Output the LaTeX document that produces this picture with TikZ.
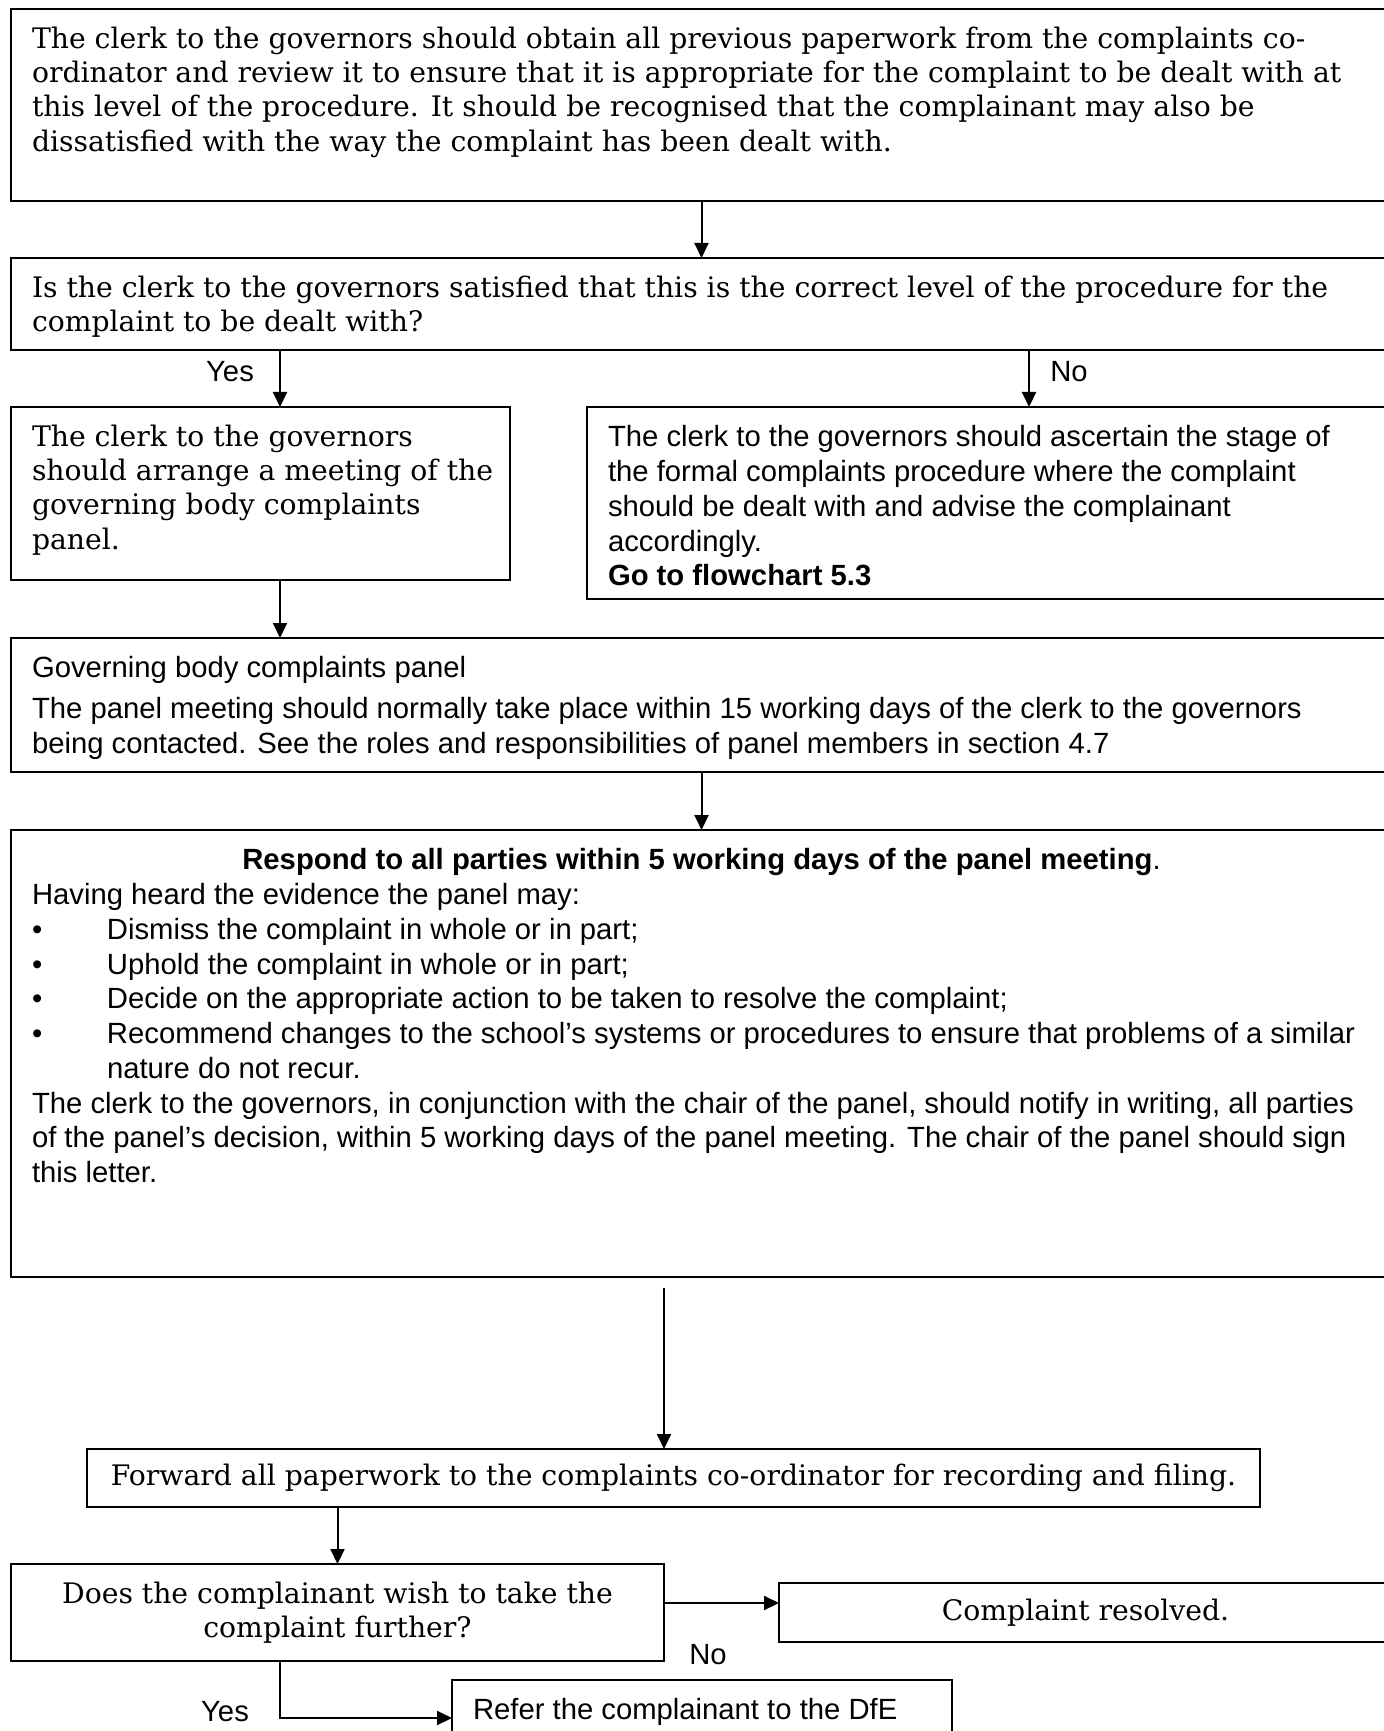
\documentclass[tikz,border=0pt]{standalone}
\usepackage{fontspec}
\setmainfont{Liberation Sans}
\newfontfamily\bookfont{DejaVu Serif}
\usetikzlibrary{arrows.meta}

\newdimen\pxu \pxu=0.4pt
% box text: width and height in px, lines set with \\
\newcommand{\boxbody}[3]{\parbox[t][\dimexpr#2\pxu-12.4pt\relax][t]{\dimexpr#1\pxu-16.8pt\relax}{\begin{tabular}[t]{@{}l@{}}#3\end{tabular}}}
\newcommand{\bul}{\makebox[30pt][l]{\textbullet}}

\begin{document}
\begin{tikzpicture}[x=0.4pt,y=-0.4pt,line width=0.8pt,
  box/.style={draw,anchor=north west,inner xsep=8.4pt,inner ysep=6.2pt,outer sep=0pt},
  mid/.style={draw,anchor=north west,inner sep=0pt,outer sep=0pt,align=center},
  serif/.style={font=\bookfont\fontsize{11.3}{13.7}\selectfont},
  sans/.style={font=\fontsize{11.7}{13.9}\selectfont},
  arr/.style={-{Triangle[length=6pt,width=5.6pt]}}]
\useasboundingbox (0,0) rectangle (1384,1731);
\clip (0,0) rectangle (1384,1731);

\coordinate (yescol) at (280,0);
\coordinate (nocol)  at (1029,0);
\coordinate (fwdcol) at (664,0);

\node[box,serif] (check) at (11,9) {\boxbody{1381}{192}{%
The clerk to the governors should obtain all previous paperwork from the complaints co-\\
ordinator and review it to ensure that it is appropriate for the complaint to be dealt with at\\
this level of the procedure. It should be recognised that the complainant may also be\\
dissatisfied with the way the complaint has been dealt with.}};
\node[box,serif] (level) at (11,258) {\boxbody{1381}{92}{%
Is the clerk to the governors satisfied that this is the correct level of the procedure for the\\
complaint to be dealt with?}};
\node[box,serif] (arrange) at (11,407) {\boxbody{499}{173}{%
The clerk to the governors\\
should arrange a meeting of the\\
governing body complaints\\
panel.}};
\node[box,sans] (ascertain) at (587,407) {\boxbody{805}{192}{%
The clerk to the governors should ascertain the stage of\\
the formal complaints procedure where the complaint\\
should be dealt with and advise the complainant\\
accordingly.\\
\textbf{Go to flowchart 5.3}}};
\node[box,sans] (panel) at (11,638) {\boxbody{1381}{134}{%
Governing body complaints panel\\[2.4pt]
The panel meeting should normally take place within 15 working days of the clerk to the governors\\
being contacted. See the roles and responsibilities of panel members in section 4.7}};
\node[box,sans] (respond) at (11,830) {\boxbody{1381}{447}{%
\makebox[\linewidth][c]{\textbf{Respond to all parties within 5 working days of the panel meeting}.}\\
Having heard the evidence the panel may:\\
\bul Dismiss the complaint in whole or in part;\\
\bul Uphold the complaint in whole or in part;\\
\bul Decide on the appropriate action to be taken to resolve the complaint;\\
\bul Recommend changes to the school’s systems or procedures to ensure that problems of a similar\\
\hspace*{30pt}nature do not recur.\\
The clerk to the governors, in conjunction with the chair of the panel, should notify in writing, all parties\\
of the panel’s decision, within 5 working days of the panel meeting. The chair of the panel should sign\\
this letter.}};
\node[mid,serif,minimum width=469.2pt,minimum height=23.2pt] (forward) at (87,1449)
  {Forward all paperwork to the complaints co-ordinator for recording and filing.};
\node[mid,serif,minimum width=261.2pt,minimum height=38.8pt] (decide) at (11,1564)
  {Does the complainant wish to take the\\complaint further?};
\node[mid,serif,minimum width=245.2pt,minimum height=23.6pt] (resolved) at (779,1583)
  {Complaint resolved.};
\node[box,sans] (refer) at (452,1680) {\boxbody{500}{76}{Refer the complainant to the DfE}};

\node[sans] (yes1) at (230,372) {Yes};
\node[sans] (no1) at (1069,372) {No};
\node[sans] (no2) at (708,1655) {No};
\node[sans,anchor=base] (yes2) at (225,1721) {Yes};

\draw[arr] (check) -- (level);
\draw[arr] (level.south -| yescol) -- (arrange.north -| yescol);
\draw[arr] (level.south -| nocol) -- (ascertain.north -| nocol);
\draw[arr] (arrange.south -| yescol) -- (panel.north -| yescol);
\draw[arr] (panel) -- (respond);
\draw[arr,shorten <=4.4pt] (respond.south -| fwdcol) -- (forward.north -| fwdcol);
\draw[arr] (forward.south -| decide.north) -- (decide.north);
\draw[arr] ([yshift=3.8pt]decide.east) -- ([yshift=3.8pt]decide.east -| resolved.west);
\draw[arr] (decide.south -| yescol) |- (refer.west);
\end{tikzpicture}
\end{document}
